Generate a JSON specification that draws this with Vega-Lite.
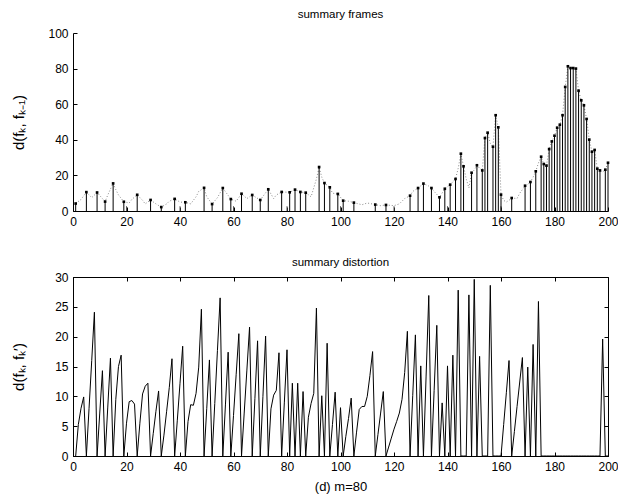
{
  "$schema": "https://vega.github.io/schema/vega-lite/v6.json",
  "background": "white",
  "padding": {"left": 10, "top": 8, "right": 10, "bottom": 5},
  "config": {
    "font": "Liberation Sans",
    "view": {"stroke": null},
    "axis": {"grid": false, "domainColor": "black", "domainWidth": 1, "tickColor": "black", "tickWidth": 1, "tickSize": -4, "labelPadding": 9, "labelColor": "black", "labelFontSize": 12, "labelFont": "Liberation Sans", "titleFont": "Liberation Sans", "titleFontSize": 13, "titleFontWeight": "normal", "titleColor": "black", "labelFlush": false, "labelOverlap": false},
    "title": {"font": "Liberation Sans", "fontSize": 11.5, "fontWeight": "normal", "color": "black", "anchor": "middle", "frame": "group"},
    "concat": {"spacing": 29}
  },
  "datasets": {
    "frames": [
      {"x":1,"d":4.2},{"x":5,"d":10.6},{"x":9,"d":10.4},{"x":12,"d":5.3},{"x":15,"d":15.5},{"x":19,"d":5.2},{"x":24,"d":9.1},{"x":29,"d":6.2},{"x":33,"d":2.2},{"x":38,"d":6.8},{"x":42,"d":4.9},{"x":49,"d":13.0},{"x":52,"d":3.9},{"x":56,"d":12.9},{"x":59,"d":6.7},{"x":63,"d":9.7},{"x":67,"d":9.0},{"x":70,"d":6.2},{"x":73,"d":12.2},{"x":78,"d":10.7},{"x":81,"d":10.5},{"x":83,"d":12.0},{"x":85,"d":10.7},{"x":87,"d":10.3},{"x":92,"d":24.7},{"x":94,"d":15.7},{"x":96,"d":13.3},{"x":99,"d":9.6},{"x":101,"d":5.8},{"x":105,"d":4.7},{"x":113,"d":3.6},{"x":117,"d":3.4},{"x":126,"d":8.6},{"x":129,"d":12.9},{"x":131,"d":15.4},{"x":134,"d":12.9},{"x":137,"d":7.7},{"x":139,"d":12.5},{"x":141,"d":14.8},{"x":143,"d":18.0},{"x":145,"d":32.2},{"x":146,"d":25.1},{"x":149,"d":21.5},{"x":151,"d":25.7},{"x":153,"d":22.8},{"x":154,"d":41.0},{"x":155,"d":44.0},{"x":157,"d":36.1},{"x":158,"d":53.8},{"x":159,"d":47.0},{"x":160,"d":9.2},{"x":164,"d":7.3},{"x":169,"d":14.2},{"x":171,"d":16.3},{"x":173,"d":22.3},{"x":175,"d":30.5},{"x":176,"d":26.4},{"x":177,"d":25.5},{"x":178,"d":34.8},{"x":179,"d":39.1},{"x":180,"d":42.3},{"x":181,"d":46.8},{"x":182,"d":48.5},{"x":183,"d":53.8},{"x":184,"d":69.7},{"x":185,"d":81.3},{"x":186,"d":80.3},{"x":187,"d":80.3},{"x":188,"d":80.0},{"x":189,"d":67.6},{"x":190,"d":62.2},{"x":191,"d":59.4},{"x":192,"d":51.7},{"x":193,"d":40.1},{"x":194,"d":33.3},{"x":195,"d":34.3},{"x":196,"d":23.8},{"x":197,"d":22.8},{"x":199,"d":23.2},{"x":200,"d":27.1}
    ],
    "keys": [
      {"x":20,"d":2.7},{"x":40,"d":2.7},{"x":60,"d":2.7},{"x":80,"d":2.7},{"x":100,"d":2.7},{"x":120,"d":2.7},{"x":140,"d":2.7},{"x":160,"d":2.7},{"x":180,"d":2.7}
    ],
    "dotted": [
      {"x":1,"d":4.2},{"x":3,"d":6.5},{"x":5,"d":10.6},{"x":7,"d":7.5},{"x":9,"d":10.4},{"x":11,"d":7},{"x":12,"d":5.3},{"x":13,"d":9},{"x":15,"d":15.5},{"x":16,"d":12},{"x":17,"d":9},{"x":19,"d":5.2},{"x":21,"d":4.5},{"x":22,"d":6.5},{"x":24,"d":9.1},{"x":26,"d":6},{"x":27,"d":4},{"x":29,"d":6.2},{"x":31,"d":4},{"x":33,"d":2.2},{"x":35,"d":4},{"x":36,"d":5.5},{"x":38,"d":6.8},{"x":40,"d":5},{"x":42,"d":4.9},{"x":44,"d":4},{"x":46,"d":8},{"x":47,"d":11},{"x":49,"d":13.0},{"x":50,"d":8},{"x":52,"d":3.9},{"x":54,"d":7.5},{"x":56,"d":12.9},{"x":59,"d":6.7},{"x":61,"d":5.5},{"x":63,"d":9.7},{"x":65,"d":7},{"x":67,"d":9.0},{"x":68,"d":8},{"x":70,"d":6.2},{"x":73,"d":12.2},{"x":75,"d":7},{"x":76,"d":9},{"x":78,"d":10.7},{"x":81,"d":10.5},{"x":83,"d":12.0},{"x":85,"d":10.7},{"x":87,"d":10.3},{"x":89,"d":8},{"x":90,"d":13},{"x":91,"d":18},{"x":92,"d":24.7},{"x":93,"d":19},{"x":94,"d":15.7},{"x":96,"d":13.3},{"x":97,"d":10},{"x":99,"d":9.6},{"x":101,"d":5.8},{"x":103,"d":5.5},{"x":105,"d":4.7},{"x":108,"d":3.5},{"x":110,"d":4.5},{"x":113,"d":3.6},{"x":115,"d":3},{"x":117,"d":3.4},{"x":120,"d":3},{"x":122,"d":4},{"x":124,"d":7},{"x":126,"d":8.6},{"x":127,"d":11},{"x":129,"d":12.9},{"x":131,"d":15.4},{"x":133,"d":14},{"x":134,"d":12.9},{"x":135,"d":11},{"x":137,"d":7.7},{"x":139,"d":12.5},{"x":141,"d":14.8},{"x":143,"d":18.0},{"x":144,"d":24},{"x":145,"d":32.2},{"x":146,"d":25.1},{"x":147,"d":18},{"x":148,"d":13},{"x":149,"d":21.5},{"x":150,"d":23},{"x":151,"d":25.7},{"x":152,"d":24},{"x":153,"d":22.8},{"x":154,"d":41.0},{"x":155,"d":44.0},{"x":156,"d":38},{"x":157,"d":36.1},{"x":158,"d":53.8},{"x":159,"d":47.0},{"x":160,"d":9.2},{"x":161,"d":6},{"x":162,"d":5},{"x":163,"d":6},{"x":164,"d":7.3},{"x":166,"d":7},{"x":167,"d":10},{"x":168,"d":12},{"x":169,"d":14.2},{"x":170,"d":15},{"x":171,"d":16.3},{"x":172,"d":19},{"x":173,"d":22.3},{"x":174,"d":27},{"x":175,"d":30.5},{"x":176,"d":26.4},{"x":177,"d":25.5},{"x":178,"d":34.8},{"x":179,"d":39.1},{"x":180,"d":42.3},{"x":181,"d":46.8},{"x":182,"d":48.5},{"x":183,"d":53.8},{"x":184,"d":69.7},{"x":185,"d":81.3},{"x":186,"d":80.3},{"x":187,"d":80.3},{"x":188,"d":80.0},{"x":189,"d":67.6},{"x":190,"d":62.2},{"x":191,"d":59.4},{"x":192,"d":51.7},{"x":193,"d":40.1},{"x":194,"d":33.3},{"x":195,"d":34.3},{"x":196,"d":23.8},{"x":197,"d":22.8},{"x":198,"d":22},{"x":199,"d":23.2},{"x":200,"d":27.1}
    ],
    "distortion": [
      {"x":1,"d":0},{"x":2,"d":5.3},{"x":3,"d":8.0},{"x":4,"d":9.9},{"x":5,"d":0},{"x":6,"d":8},{"x":7,"d":16},{"x":8,"d":24.1},{"x":9,"d":0},{"x":10,"d":7.2},{"x":11,"d":14.3},{"x":12,"d":0},{"x":13,"d":8.2},{"x":14,"d":16.4},{"x":15,"d":0},{"x":16,"d":9.5},{"x":17,"d":15},{"x":18,"d":16.9},{"x":19,"d":0},{"x":20,"d":5.5},
      {"x":21,"d":9.1},{"x":22,"d":9.3},{"x":23,"d":8.7},{"x":24,"d":0},{"x":25,"d":5.5},{"x":26,"d":10.4},{"x":27,"d":11.7},{"x":28,"d":12.2},{"x":29,"d":0},{"x":30,"d":3.8},{"x":31,"d":7.5},{"x":32,"d":10.9},{"x":33,"d":0},{"x":34,"d":3.5},{"x":35,"d":7.5},{"x":36,"d":11.5},{"x":37,"d":16.3},{"x":38,"d":0},{"x":39,"d":6},{"x":40,"d":12.2},
      {"x":41,"d":18.4},{"x":42,"d":0},{"x":43,"d":5.8},{"x":44,"d":8.6},{"x":45,"d":8.5},{"x":46,"d":10.5},{"x":47,"d":14.9},{"x":48,"d":24.6},{"x":49,"d":0},{"x":50,"d":8},{"x":51,"d":16.1},{"x":52,"d":0},{"x":53,"d":8.8},{"x":54,"d":17.7},{"x":55,"d":26.5},{"x":56,"d":0},{"x":57,"d":8.7},{"x":58,"d":17.4},{"x":59,"d":0},{"x":60,"d":6.8},
      {"x":61,"d":13.7},{"x":62,"d":20.5},{"x":63,"d":0},{"x":64,"d":7.2},{"x":65,"d":14.4},{"x":66,"d":21.6},{"x":67,"d":0},{"x":68,"d":9.6},{"x":69,"d":19.3},{"x":70,"d":0},{"x":71,"d":10},{"x":72,"d":20.1},{"x":73,"d":0},{"x":74,"d":7.9},{"x":75,"d":10.2},{"x":76,"d":11},{"x":77,"d":17.3},{"x":78,"d":0},{"x":79,"d":8.9},{"x":80,"d":17.8},
      {"x":81,"d":0},{"x":82,"d":12.2},{"x":83,"d":0},{"x":84,"d":12.2},{"x":85,"d":0},{"x":86,"d":10.8},{"x":87,"d":0},{"x":88,"d":6.5},{"x":89,"d":8.8},{"x":90,"d":10.5},{"x":91,"d":24.8},{"x":92,"d":0},{"x":93,"d":10.1},{"x":94,"d":0},{"x":95,"d":18.9},{"x":96,"d":0},{"x":97,"d":5.3},{"x":98,"d":10.7},{"x":99,"d":0},{"x":100,"d":8.1},
      {"x":101,"d":0},{"x":102,"d":3.3},{"x":103,"d":6.3},{"x":104,"d":9.7},{"x":105,"d":0},{"x":106,"d":4},{"x":107,"d":7.8},{"x":108,"d":8.3},{"x":109,"d":8.3},{"x":110,"d":10},{"x":111,"d":13.5},{"x":112,"d":17.5},{"x":113,"d":0},{"x":114,"d":3.6},{"x":115,"d":7.2},{"x":116,"d":10.8},{"x":117,"d":0},{"x":118,"d":1.5},{"x":119,"d":3},{"x":120,"d":4.5},
      {"x":121,"d":5.8},{"x":122,"d":7.2},{"x":123,"d":9.5},{"x":124,"d":14},{"x":125,"d":20.9},{"x":126,"d":0},{"x":127,"d":10.1},{"x":128,"d":20.3},{"x":129,"d":0},{"x":130,"d":15.1},{"x":131,"d":0},{"x":132,"d":13.4},{"x":133,"d":26.9},{"x":134,"d":0},{"x":135,"d":11},{"x":136,"d":21.9},{"x":137,"d":0},{"x":138,"d":8.9},{"x":139,"d":0},{"x":140,"d":15.1},
      {"x":141,"d":0},{"x":142,"d":16.9},{"x":143,"d":0},{"x":144,"d":27.8},{"x":145,"d":0},{"x":146,"d":0},{"x":147,"d":0},{"x":148,"d":27},{"x":149,"d":0},{"x":150,"d":29.6},{"x":151,"d":0},{"x":152,"d":16.7},{"x":153,"d":0},{"x":154,"d":0},{"x":155,"d":0},{"x":156,"d":28.6},{"x":157,"d":0},{"x":158,"d":0},{"x":159,"d":0},{"x":160,"d":0},
      {"x":161,"d":5.3},{"x":162,"d":10.6},{"x":163,"d":16},{"x":164,"d":0},{"x":165,"d":4.1},{"x":166,"d":8.3},{"x":167,"d":12.4},{"x":168,"d":16.5},{"x":169,"d":0},{"x":170,"d":14.9},{"x":171,"d":0},{"x":172,"d":18.7},{"x":173,"d":0},{"x":174,"d":25.9},{"x":175,"d":0},{"x":176,"d":0},{"x":177,"d":0},{"x":178,"d":0},{"x":179,"d":0},{"x":180,"d":0},
      {"x":181,"d":0},{"x":182,"d":0},{"x":183,"d":0},{"x":184,"d":0},{"x":185,"d":0},{"x":186,"d":0},{"x":187,"d":0},{"x":188,"d":0},{"x":189,"d":0},{"x":190,"d":0},{"x":191,"d":0},{"x":192,"d":0},{"x":193,"d":0},{"x":194,"d":0},{"x":195,"d":0},{"x":196,"d":0},{"x":197,"d":0},{"x":198,"d":19.6},{"x":199,"d":0},{"x":200,"d":0}
    ]
  },
  "vconcat": [
    {
      "title": {"text": "summary frames", "offset": 7},
      "width": 535,
      "height": 178,
      "encoding": {
        "x": {"field": "x", "type": "quantitative", "scale": {"domain": [0, 200], "nice": false}, "axis": {"values": [0,20,40,60,80,100,120,140,160,180,200], "title": null, "labelOverlap": false}},
        "y": {"field": "d", "type": "quantitative", "scale": {"domain": [0, 100], "nice": false}, "axis": {"values": [0,20,40,60,80,100], "title": "d(fₖ, fₖ₋₁)", "titleFontSize": 15, "titleX": -55, "titleBaseline": "middle", "labelOverlap": false, "labelSeparation": 0}}
      },
      "layer": [
        {
          "data": {"name": "dotted"},
          "mark": {"type": "line", "color": "#8a8a8a", "strokeDash": [1, 2], "strokeWidth": 1}
        },
        {
          "data": {"name": "keys"},
          "mark": {"type": "rule", "color": "#555555", "strokeWidth": 1},
          "encoding": {"y2": {"datum": 0}}
        },
        {
          "data": {"name": "frames"},
          "mark": {"type": "rule", "color": "black", "strokeWidth": 1},
          "encoding": {"y2": {"datum": 0}}
        },
        {
          "data": {"name": "frames"},
          "mark": {"type": "square", "color": "black", "size": 7, "opacity": 1}
        }
      ]
    },
    {
      "title": {"text": "summary distortion", "offset": 3},
      "width": 535,
      "height": 179,
      "view": {"stroke": "black", "strokeWidth": 1},
      "layer": [
        {
          "data": {"name": "distortion"},
          "mark": {"type": "line", "color": "black", "strokeWidth": 1},
          "encoding": {
            "x": {"field": "x", "type": "quantitative", "scale": {"domain": [0, 200], "nice": false}, "axis": {"values": [0,20,40,60,80,100,120,140,160,180,200], "title": "(d) m=80", "titlePadding": 8, "labelOverlap": false}},
            "y": {"field": "d", "type": "quantitative", "scale": {"domain": [0, 30], "nice": false}, "axis": {"values": [0,5,10,15,20,25,30], "title": "d(fₖ, fₖ′)", "titleFontSize": 15, "titleX": -55, "titleBaseline": "middle", "labelOverlap": false}}
          }
        },
        {
          "data": {"name": "distortion"},
          "mark": {"type": "line", "opacity": 0},
          "encoding": {
            "x": {"field": "x", "type": "quantitative", "axis": {"orient": "top", "values": [0,20,40,60,80,100,120,140,160,180,200], "labels": false, "domain": false, "title": null}},
            "y": {"field": "d", "type": "quantitative", "axis": {"orient": "right", "values": [0,5,10,15,20,25,30], "labels": false, "domain": false, "title": null}}
          }
        }
      ],
      "resolve": {"axis": {"x": "independent", "y": "independent"}}
    }
  ]
}
